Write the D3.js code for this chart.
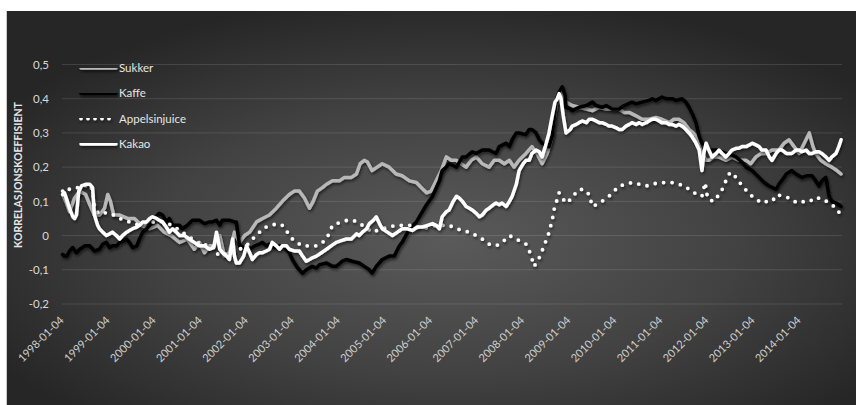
<!DOCTYPE html>
<html>
<head>
<meta charset="utf-8">
<script src="https://cdn.jsdelivr.net/npm/d3@7"></script>
<style>
  html, body { margin: 0; padding: 0; background: #ffffff; }
  svg { display: block; font-family: Lato, "Open Sans", "Noto Sans", sans-serif; }
</style>
</head>
<body>
<svg id="chart" width="856" height="405"></svg>
<script>
// ---------------- DATA ----------------
const seriesNames = ["Sukker", "Kaffe", "Appelsinjuice", "Kakao"];

const xTickLabels = ["1998-01-04","1999-01-04","2000-01-04","2001-01-04","2002-01-04","2003-01-04",
  "2004-01-04","2005-01-04","2006-01-04","2007-01-04","2008-01-04","2009-01-04","2010-01-04",
  "2011-01-04","2012-01-04","2013-01-04","2014-01-04"];

const yTickValues = [-0.2, -0.1, 0, 0.1, 0.2, 0.3, 0.4, 0.5];

// times are decimal years
const sukkerYears = [1998.00,1998.07,1998.15,1998.26,1998.37,1998.50,1998.59,1998.69,1998.80,1998.91,1998.98,1999.04,1999.11,1999.24,1999.41,1999.56,1999.71,1999.89,2000.06,2000.21,2000.36,2000.54,2000.71,2000.86,2000.97,2001.08,2001.19,2001.30,2001.41,2001.51,2001.62,2001.73,2001.84,2001.95,2002.06,2002.21,2002.34,2002.49,2002.64,2002.77,2002.92,2003.03,2003.14,2003.25,2003.36,2003.44,2003.53,2003.64,2003.73,2003.86,2004.01,2004.12,2004.27,2004.38,2004.46,2004.55,2004.62,2004.72,2004.83,2004.94,2005.09,2005.24,2005.37,2005.53,2005.68,2005.79,2005.90,2006.00,2006.11,2006.22,2006.33,2006.44,2006.55,2006.65,2006.76,2006.87,2006.98,2007.11,2007.26,2007.37,2007.48,2007.59,2007.70,2007.80,2007.91,2008.06,2008.19,2008.30,2008.41,2008.52,2008.61,2008.67,2008.74,2008.80,2008.87,2008.93,2009.06,2009.21,2009.37,2009.50,2009.65,2009.80,2009.93,2010.08,2010.19,2010.30,2010.45,2010.58,2010.73,2010.88,2011.01,2011.17,2011.27,2011.38,2011.49,2011.60,2011.69,2011.75,2011.82,2011.88,2011.97,2012.03,2012.14,2012.25,2012.40,2012.53,2012.68,2012.84,2012.94,2013.05,2013.16,2013.27,2013.40,2013.55,2013.66,2013.77,2013.88,2013.99,2014.10,2014.21,2014.29,2014.35,2014.46,2014.57,2014.70,2014.81,2014.90];
const sukkerValues = [0.12,0.10,0.07,0.11,0.13,0.12,0.09,0.06,0.06,0.08,0.12,0.10,0.06,0.06,0.05,0.05,0.03,0.02,0.03,0.01,0.00,-0.02,-0.01,-0.04,-0.02,-0.05,-0.03,-0.03,0.00,-0.06,-0.05,0.01,-0.02,0.00,0.01,0.04,0.05,0.06,0.08,0.10,0.12,0.13,0.13,0.11,0.08,0.10,0.13,0.14,0.15,0.16,0.16,0.17,0.17,0.18,0.21,0.22,0.215,0.19,0.20,0.21,0.20,0.18,0.175,0.16,0.155,0.14,0.125,0.13,0.16,0.19,0.23,0.22,0.22,0.21,0.20,0.22,0.23,0.21,0.20,0.22,0.22,0.21,0.22,0.20,0.22,0.24,0.26,0.24,0.21,0.24,0.28,0.34,0.40,0.42,0.40,0.39,0.38,0.375,0.37,0.365,0.375,0.37,0.37,0.37,0.36,0.36,0.35,0.34,0.34,0.345,0.34,0.33,0.34,0.34,0.33,0.31,0.30,0.29,0.26,0.24,0.22,0.22,0.23,0.23,0.22,0.23,0.22,0.22,0.21,0.23,0.24,0.24,0.25,0.25,0.27,0.28,0.26,0.24,0.27,0.30,0.26,0.24,0.22,0.21,0.20,0.19,0.18];

const kaffeYears = [1998.00,1998.04,1998.09,1998.15,1998.22,1998.30,1998.37,1998.48,1998.59,1998.69,1998.80,1998.87,1998.95,1999.02,1999.08,1999.17,1999.24,1999.34,1999.39,1999.45,1999.52,1999.61,1999.67,1999.74,1999.82,1999.89,1999.95,2000.06,2000.10,2000.17,2000.25,2000.32,2000.39,2000.54,2000.60,2000.71,2000.82,2000.97,2001.08,2001.19,2001.25,2001.34,2001.41,2001.47,2001.56,2001.62,2001.73,2001.77,2001.84,2001.95,2002.06,2002.17,2002.27,2002.34,2002.42,2002.49,2002.60,2002.71,2002.82,2002.92,2002.99,2003.08,2003.14,2003.21,2003.29,2003.42,2003.51,2003.58,2003.73,2003.86,2003.94,2004.07,2004.16,2004.29,2004.44,2004.55,2004.66,2004.72,2004.81,2004.94,2005.09,2005.20,2005.31,2005.37,2005.53,2005.68,2005.81,2005.90,2006.03,2006.18,2006.24,2006.33,2006.39,2006.55,2006.68,2006.76,2006.89,2006.98,2007.11,2007.26,2007.41,2007.48,2007.63,2007.70,2007.76,2007.85,2007.91,2008.06,2008.13,2008.19,2008.28,2008.35,2008.41,2008.56,2008.63,2008.67,2008.71,2008.78,2008.85,2008.91,2008.93,2009.02,2009.06,2009.21,2009.37,2009.50,2009.58,2009.71,2009.80,2009.93,2010.08,2010.19,2010.36,2010.45,2010.58,2010.73,2010.80,2010.88,2011.01,2011.10,2011.23,2011.32,2011.45,2011.53,2011.60,2011.69,2011.75,2011.82,2011.88,2011.97,2012.03,2012.19,2012.32,2012.40,2012.53,2012.62,2012.75,2012.84,2012.97,2013.12,2013.23,2013.34,2013.49,2013.55,2013.66,2013.71,2013.83,2013.92,2014.05,2014.17,2014.27,2014.35,2014.42,2014.48,2014.57,2014.64,2014.70,2014.79,2014.90];
const kaffeValues = [-0.055,-0.06,-0.06,-0.045,-0.035,-0.05,-0.04,-0.03,-0.03,-0.045,-0.04,-0.025,-0.02,-0.035,-0.03,-0.03,-0.02,-0.015,-0.01,-0.02,-0.035,-0.03,-0.01,0.01,0.02,0.03,0.04,0.06,0.065,0.06,0.04,0.05,0.03,0.03,0.02,0.03,0.045,0.045,0.035,0.04,0.04,0.045,0.03,0.045,0.045,0.045,0.04,0.04,-0.03,-0.035,-0.04,-0.03,-0.025,-0.02,-0.03,-0.025,-0.035,-0.03,-0.035,-0.05,-0.07,-0.09,-0.10,-0.11,-0.10,-0.09,-0.095,-0.085,-0.08,-0.09,-0.09,-0.075,-0.07,-0.075,-0.08,-0.09,-0.10,-0.11,-0.09,-0.07,-0.06,-0.06,-0.03,-0.02,0.02,0.04,0.07,0.09,0.115,0.16,0.19,0.20,0.21,0.20,0.23,0.23,0.245,0.24,0.25,0.25,0.24,0.26,0.27,0.26,0.28,0.30,0.30,0.295,0.31,0.31,0.30,0.28,0.27,0.26,0.29,0.34,0.39,0.42,0.435,0.41,0.375,0.37,0.365,0.375,0.38,0.39,0.38,0.375,0.38,0.37,0.37,0.38,0.39,0.385,0.39,0.395,0.40,0.395,0.405,0.40,0.40,0.395,0.40,0.39,0.375,0.35,0.33,0.29,0.27,0.26,0.25,0.25,0.245,0.24,0.235,0.23,0.215,0.20,0.19,0.17,0.155,0.145,0.135,0.15,0.17,0.18,0.19,0.18,0.17,0.175,0.175,0.16,0.145,0.16,0.17,0.115,0.10,0.095,0.085];

const appelsinYears = [1998.00,1998.07,1998.15,1998.26,1998.37,1998.48,1998.59,1998.65,1998.69,1998.74,1998.80,1998.87,1998.95,1999.02,1999.11,1999.24,1999.34,1999.45,1999.56,1999.67,1999.78,1999.89,2000.04,2000.17,2000.28,2000.39,2000.49,2000.60,2000.71,2000.82,2000.93,2001.04,2001.15,2001.25,2001.34,2001.41,2001.51,2001.62,2001.73,2001.84,2001.99,2002.12,2002.21,2002.34,2002.42,2002.55,2002.64,2002.77,2002.88,2002.99,2003.08,2003.21,2003.36,2003.51,2003.64,2003.73,2003.86,2003.94,2004.07,2004.18,2004.29,2004.40,2004.51,2004.62,2004.72,2004.83,2004.94,2005.09,2005.24,2005.37,2005.53,2005.68,2005.81,2005.96,2006.11,2006.24,2006.39,2006.55,2006.68,2006.83,2006.98,2007.11,2007.26,2007.41,2007.54,2007.70,2007.85,2007.98,2008.06,2008.15,2008.24,2008.30,2008.37,2008.45,2008.54,2008.63,2008.69,2008.74,2008.78,2008.85,2008.93,2009.02,2009.06,2009.15,2009.21,2009.32,2009.43,2009.50,2009.58,2009.65,2009.76,2009.86,2009.97,2010.08,2010.23,2010.36,2010.52,2010.67,2010.80,2010.95,2011.10,2011.23,2011.38,2011.51,2011.60,2011.71,2011.82,2011.88,2011.95,2011.99,2012.03,2012.14,2012.25,2012.32,2012.40,2012.47,2012.53,2012.62,2012.68,2012.75,2012.86,2012.97,2013.07,2013.18,2013.29,2013.40,2013.51,2013.62,2013.77,2013.88,2013.99,2014.10,2014.21,2014.31,2014.42,2014.53,2014.64,2014.75,2014.83,2014.90];
const appelsinValues = [0.13,0.14,0.135,0.14,0.14,0.145,0.15,0.13,0.09,0.07,0.065,0.07,0.065,0.065,0.06,0.05,0.045,0.04,0.035,0.03,0.035,0.04,0.04,0.04,0.035,0.03,0.02,0.01,0.00,-0.01,-0.02,-0.03,-0.025,-0.03,-0.05,-0.06,-0.055,-0.05,-0.05,-0.04,-0.03,-0.01,0.00,0.02,0.025,0.03,0.035,0.03,0.01,-0.01,-0.02,-0.03,-0.03,-0.03,-0.02,-0.01,0.03,0.035,0.04,0.045,0.045,0.04,0.03,0.02,0.01,0.015,0.02,0.025,0.03,0.03,0.03,0.025,0.02,0.025,0.03,0.03,0.03,0.02,0.015,0.01,0.00,-0.01,-0.025,-0.03,-0.02,0.00,-0.01,-0.02,-0.025,-0.05,-0.09,-0.075,-0.06,-0.03,0.00,0.045,0.09,0.105,0.125,0.11,0.095,0.105,0.115,0.125,0.135,0.135,0.12,0.085,0.09,0.095,0.105,0.115,0.13,0.145,0.15,0.155,0.15,0.145,0.15,0.155,0.155,0.155,0.15,0.145,0.135,0.125,0.12,0.115,0.155,0.12,0.105,0.10,0.12,0.135,0.16,0.18,0.185,0.17,0.16,0.145,0.13,0.115,0.105,0.095,0.10,0.10,0.12,0.115,0.11,0.10,0.095,0.10,0.105,0.10,0.11,0.105,0.095,0.085,0.075,0.055];

const kakaoYears = [1998.00,1998.04,1998.09,1998.15,1998.22,1998.26,1998.30,1998.35,1998.41,1998.50,1998.59,1998.65,1998.69,1998.76,1998.80,1998.87,1998.95,1999.02,1999.08,1999.17,1999.24,1999.30,1999.39,1999.45,1999.52,1999.61,1999.67,1999.74,1999.82,1999.89,1999.95,2000.04,2000.10,2000.17,2000.25,2000.32,2000.39,2000.47,2000.54,2000.65,2000.75,2000.86,2000.97,2001.08,2001.19,2001.28,2001.34,2001.41,2001.47,2001.56,2001.62,2001.69,2001.73,2001.77,2001.84,2001.93,2001.99,2002.06,2002.12,2002.21,2002.27,2002.34,2002.42,2002.49,2002.55,2002.64,2002.71,2002.77,2002.86,2002.92,2003.03,2003.14,2003.21,2003.29,2003.36,2003.42,2003.51,2003.62,2003.73,2003.83,2003.94,2004.05,2004.16,2004.27,2004.38,2004.44,2004.51,2004.60,2004.66,2004.75,2004.81,2004.88,2004.94,2005.05,2005.16,2005.27,2005.37,2005.48,2005.59,2005.70,2005.81,2005.92,2006.03,2006.11,2006.18,2006.24,2006.33,2006.39,2006.48,2006.55,2006.61,2006.68,2006.76,2006.83,2006.89,2006.98,2007.05,2007.11,2007.20,2007.26,2007.35,2007.41,2007.48,2007.54,2007.63,2007.70,2007.76,2007.85,2007.91,2008.00,2008.06,2008.13,2008.19,2008.28,2008.35,2008.41,2008.48,2008.56,2008.63,2008.69,2008.74,2008.78,2008.82,2008.87,2008.93,2009.02,2009.06,2009.15,2009.21,2009.28,2009.37,2009.43,2009.50,2009.58,2009.65,2009.71,2009.80,2009.86,2009.93,2010.02,2010.08,2010.15,2010.23,2010.30,2010.36,2010.45,2010.52,2010.58,2010.67,2010.73,2010.80,2010.88,2010.95,2011.01,2011.10,2011.17,2011.23,2011.32,2011.38,2011.45,2011.53,2011.60,2011.66,2011.75,2011.82,2011.86,2011.88,2011.92,2011.97,2012.03,2012.10,2012.19,2012.25,2012.32,2012.40,2012.47,2012.53,2012.62,2012.68,2012.75,2012.84,2012.91,2012.97,2013.05,2013.12,2013.18,2013.27,2013.34,2013.40,2013.49,2013.55,2013.62,2013.71,2013.77,2013.83,2013.92,2013.99,2014.05,2014.14,2014.21,2014.27,2014.35,2014.42,2014.48,2014.57,2014.64,2014.70,2014.79,2014.85,2014.90];
const kakaoValues = [0.12,0.125,0.105,0.08,0.055,0.05,0.06,0.13,0.145,0.15,0.15,0.14,0.06,0.03,0.02,0.01,0.00,0.005,0.01,0.00,-0.01,0.00,0.01,0.015,0.02,0.025,0.03,0.04,0.04,0.05,0.055,0.05,0.045,0.04,0.025,0.01,0.02,0.01,0.00,0.00,-0.01,-0.02,-0.03,-0.03,-0.04,-0.035,0.01,-0.04,-0.05,-0.06,-0.07,-0.01,-0.06,-0.08,-0.08,-0.06,-0.03,-0.05,-0.07,-0.055,-0.05,-0.05,-0.045,-0.04,-0.02,-0.03,-0.04,-0.03,-0.03,-0.04,-0.045,-0.045,-0.06,-0.075,-0.07,-0.065,-0.06,-0.05,-0.04,-0.03,-0.02,-0.015,-0.01,-0.01,0.005,0.00,0.01,0.02,0.035,0.045,0.055,0.035,0.02,0.01,0.00,0.01,0.02,0.02,0.015,0.025,0.025,0.03,0.035,0.03,0.02,0.055,0.07,0.075,0.10,0.115,0.11,0.10,0.085,0.08,0.075,0.065,0.055,0.06,0.075,0.08,0.09,0.095,0.09,0.095,0.085,0.10,0.115,0.15,0.19,0.21,0.22,0.22,0.24,0.25,0.245,0.23,0.26,0.30,0.35,0.39,0.40,0.415,0.40,0.35,0.30,0.31,0.32,0.325,0.33,0.335,0.33,0.34,0.34,0.335,0.33,0.33,0.325,0.32,0.32,0.315,0.31,0.31,0.32,0.325,0.33,0.325,0.33,0.325,0.33,0.335,0.34,0.34,0.335,0.33,0.33,0.325,0.325,0.32,0.325,0.32,0.31,0.30,0.29,0.27,0.25,0.21,0.19,0.24,0.27,0.25,0.23,0.24,0.25,0.24,0.23,0.24,0.25,0.255,0.255,0.26,0.26,0.265,0.27,0.265,0.26,0.25,0.25,0.23,0.22,0.24,0.25,0.25,0.24,0.24,0.24,0.25,0.25,0.245,0.25,0.24,0.24,0.245,0.245,0.24,0.23,0.22,0.23,0.24,0.26,0.28];

// ---------------- CHART ----------------
const svg = d3.select("#chart");
const W = 856, H = 405;

function decToDate(t) {
  const y = Math.floor(t);
  const start = Date.UTC(y, 0, 1);
  return new Date(start + (t - y) * 365.25 * 864e5);
}
const parseDay = d3.utcParse("%Y-%m-%d");

const x = d3.scaleUtc()
  .domain([parseDay("1998-01-04"), parseDay("2014-01-04")])
  .range([63, 800]);
const y = d3.scaleLinear().domain([-0.2, 0.5]).range([304, 64.5]);
const plotLeft = 62, plotRight = 842;

const defs = svg.append("defs");
const grad = defs.append("radialGradient").attr("id", "bg")
  .attr("cx", "52%").attr("cy", "58%").attr("r", "62%");
grad.append("stop").attr("offset", "0%").attr("stop-color", "#5a5a5a");
grad.append("stop").attr("offset", "55%").attr("stop-color", "#424242");
grad.append("stop").attr("offset", "100%").attr("stop-color", "#262626");

const shadow = defs.append("filter").attr("id", "shadow")
  .attr("filterUnits", "userSpaceOnUse")
  .attr("x", 0).attr("y", 0).attr("width", W).attr("height", H);
shadow.append("feDropShadow").attr("dx", 1).attr("dy", 2).attr("stdDeviation", 1.6)
  .attr("flood-color", "#000").attr("flood-opacity", 0.6);

svg.append("rect").attr("x", 7).attr("y", 11).attr("width", W - 7).attr("height", H - 11)
  .attr("fill", "url(#bg)");
svg.append("line").attr("x1", 6.5).attr("x2", 6.5).attr("y1", 11).attr("y2", H)
  .attr("stroke", "#c8c8c8").attr("stroke-width", 1);

// gridlines
svg.append("g").selectAll("line").data(yTickValues).join("line")
  .attr("x1", plotLeft).attr("x2", plotRight)
  .attr("y1", d => y(d)).attr("y2", d => y(d))
  .attr("stroke", "#ffffff").attr("stroke-opacity", 0.12).attr("stroke-width", 1);

// y axis
const yAxis = svg.append("g").attr("transform", `translate(${plotLeft},0)`)
  .call(d3.axisLeft(y).tickValues(yTickValues).tickSize(0).tickPadding(13)
    .tickFormat(d => d === 0 ? "0" : String(Math.round(d * 10) / 10).replace(".", ",")));
yAxis.select(".domain").remove();
yAxis.selectAll("text").attr("fill", "#d9d9d9").style("font-size", "11.5px")
  .style("font-family", "Lato, 'Open Sans', sans-serif");

// x axis
const xAxis = svg.append("g").attr("transform", `translate(0,304)`)
  .call(d3.axisBottom(x).tickValues(xTickLabels.map(parseDay)).tickSize(0)
    .tickFormat(d3.utcFormat("%Y-%m-%d")));
xAxis.select(".domain").remove();
xAxis.selectAll("text")
  .attr("x", 0).attr("y", 0).attr("dy", 0)
  .attr("transform", "translate(1,17) rotate(-45)")
  .style("text-anchor", "end")
  .attr("fill", "#d0d0d0").style("font-size", "11px")
  .style("font-family", "Lato, 'Open Sans', sans-serif");

// y title
svg.append("text")
  .attr("transform", "translate(22,175) rotate(-90)")
  .attr("text-anchor", "middle")
  .attr("fill", "#e6e6e6").style("font-size", "10.5px").style("font-weight", "bold")
  .style("font-family", "Lato, 'Open Sans', sans-serif")
  .text("KORRELASJONSKOEFFISIENT");

// series
const styles = {
  "Sukker":        { color: "#b8b8b8", width: 3.5, dash: null },
  "Kaffe":         { color: "#000000", width: 3.5, dash: null },
  "Appelsinjuice": { color: "#ffffff", width: 3.8, dash: "0,8.5" },
  "Kakao":         { color: "#ffffff", width: 3.5, dash: null }
};
const seriesData = [
  { name: "Sukker", pts: sukkerYears.map((t, i) => [decToDate(t), sukkerValues[i]]) },
  { name: "Kaffe", pts: kaffeYears.map((t, i) => [decToDate(t), kaffeValues[i]]) },
  { name: "Appelsinjuice", pts: appelsinYears.map((t, i) => [decToDate(t), appelsinValues[i]]) },
  { name: "Kakao", pts: kakaoYears.map((t, i) => [decToDate(t), kakaoValues[i]]) }
];
const line = d3.line().x(d => x(d[0])).y(d => y(d[1])).curve(d3.curveLinear);

svg.append("g").selectAll("path").data(seriesData).join("path")
  .attr("d", d => line(d.pts))
  .attr("fill", "none")
  .attr("stroke", d => styles[d.name].color)
  .attr("stroke-width", d => styles[d.name].width)
  .attr("stroke-linejoin", "round")
  .attr("stroke-linecap", "round")
  .attr("stroke-dasharray", d => styles[d.name].dash)
  .attr("filter", "url(#shadow)");

// legend
const leg = svg.append("g").selectAll("g").data(seriesNames).join("g")
  .attr("transform", (d, i) => `translate(0,${68 + i * 25.3})`);
leg.append("line").attr("x1", 81).attr("x2", 116).attr("y1", 0).attr("y2", 0)
  .attr("stroke", d => styles[d].color)
  .attr("stroke-width", d => styles[d].width)
  .attr("stroke-linecap", "round")
  .attr("stroke-dasharray", d => d === "Appelsinjuice" ? "0,7" : null)
  .attr("filter", "url(#shadow)");
leg.append("text").attr("x", 119).attr("y", 0).attr("dy", "0.35em")
  .attr("fill", "#e6e6e6").style("font-size", "11.5px")
  .style("font-family", "Lato, 'Open Sans', sans-serif")
  .text(d => d);
</script>
</body>
</html>
